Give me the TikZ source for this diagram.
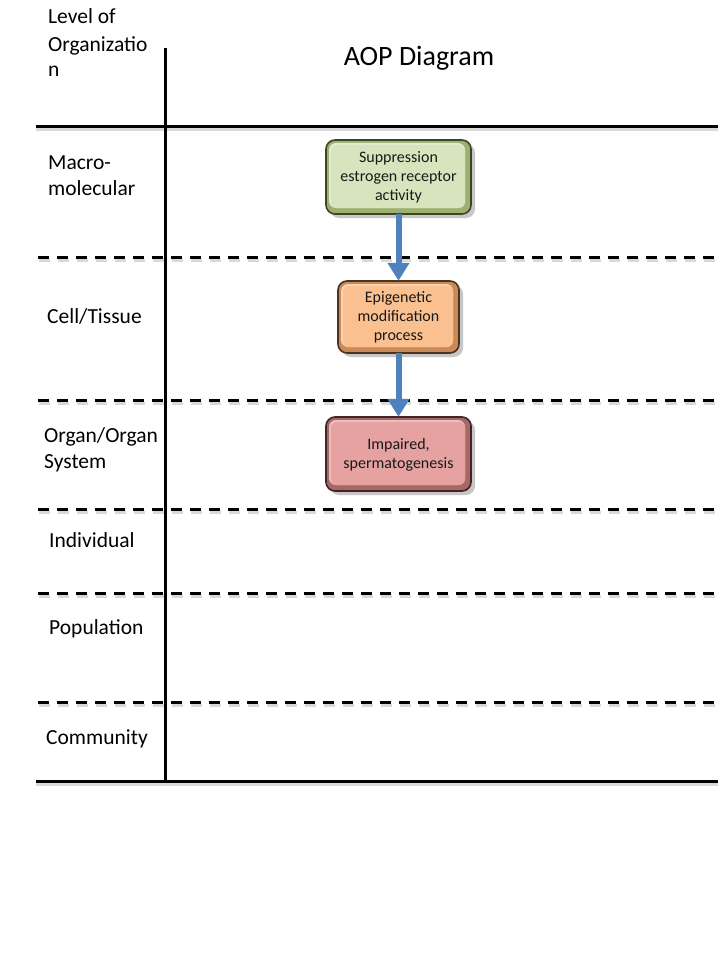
\documentclass[tikz,border=0pt]{standalone}
\usepackage{fontspec}
\setmainfont{Carlito}
\usetikzlibrary{arrows.meta}
\definecolor{grnin}{HTML}{D7E4BD}
\definecolor{grnout}{HTML}{9DB06E}
\definecolor{grnbd}{HTML}{3B4527}
\definecolor{orin}{HTML}{FAC090}
\definecolor{orout}{HTML}{C98A58}
\definecolor{orbd}{HTML}{4A3420}
\definecolor{rdin}{HTML}{E6A1A1}
\definecolor{rdout}{HTML}{A86767}
\definecolor{rdbd}{HTML}{3F2525}
\definecolor{arrblue}{HTML}{4F81BD}
\tikzset{
  lvl/.style={anchor=base west, inner sep=0pt, font=\fontsize{21.5}{25}\selectfont},
  solidrule/.style={line width=3pt, black},
  dashrule/.style={line width=3pt, black, dash pattern=on 11pt off 8pt},
  rshadow/.style={line width=3pt, black!15, dash pattern=on 11pt off 8pt},
  boxtxt/.style={align=center, inner sep=0pt, font=\fontsize{16}{19}\selectfont, text=black!90},
  flow/.style={line width=6pt, arrblue, -{Triangle[width=21pt,length=18pt]}},
}
\newcommand{\bevelbox}[8]{% name, cx, cy, w, h, inner, outer, border
  \fill[black!22, rounded corners=9pt] ({#2-#4/2+4},{#3-#5/2+4}) rectangle ({#2+#4/2+4},{#3+#5/2+4});
  \draw[line width=1.6pt, draw=#8, fill=#7, rounded corners=9pt] ({#2-#4/2},{#3-#5/2}) rectangle ({#2+#4/2},{#3+#5/2});
  \fill[#6!70!white, rounded corners=7pt] ({#2-#4/2+3},{#3-#5/2+3}) rectangle ({#2+#4/2-6},{#3+#5/2-6});
  \fill[#6, rounded corners=6pt] ({#2-#4/2+5},{#3-#5/2+5}) rectangle ({#2+#4/2-6},{#3+#5/2-6});
  \node[minimum width=#4pt, minimum height=#5pt, inner sep=0pt] (#1) at (#2,#3) {};
}
\begin{document}
\begin{tikzpicture}[x=1pt,y=-1pt]
\useasboundingbox (0,0) rectangle (720,960);
\fill[white] (0,0) rectangle (720,960);

% dashed separators (with faint shadow)
\foreach \yy in {257,400,509,593,702}{
  \draw[rshadow] (39,{\yy+3}) -- (721,{\yy+3});
  \draw[dashrule] (38,\yy) -- (720,\yy);
}
% solid rules
\draw[line width=3pt, black!15] (36,130) -- (718,130);
\draw[line width=3pt, black!15] (36,784) -- (718,784);
\draw[solidrule] (36,127) -- (718,127);
\draw[solidrule] (36,781) -- (718,781);
\draw[solidrule] (165,48) -- (165,781);

% titles
\node[lvl] (t1) at (48,24) {Level of};
\node[lvl] (t2) at (48,52) {Organizatio};
\node[lvl] (t3) at (48,77) {n};
\node[anchor=base, inner sep=0pt, font=\fontsize{28}{32}\selectfont] (title) at (419,66) {AOP Diagram};

% level labels
\node[lvl] (l1a) at (48,170) {Macro-};
\node[lvl] (l1b) at (48,195) {molecular};
\node[lvl] (l2) at (47,323) {Cell/Tissue};
\node[lvl] (l3a) at (44,442) {Organ/Organ};
\node[lvl] (l3b) at (44,468) {System};
\node[lvl] (l4) at (49,547) {Individual};
\node[lvl] (l5) at (49,634) {Population};
\node[lvl] (l6) at (46,744) {Community};

% boxes
\bevelbox{b1}{398.5}{177}{145}{74}{grnin}{grnout}{grnbd}
\node[boxtxt] (b1t) at (398.5,177) {Suppression\\estrogen receptor\\activity};
\bevelbox{b2}{398.5}{317}{121}{72}{orin}{orout}{orbd}
\node[boxtxt] (b2t) at (398.5,317) {Epigenetic\\modification\\process};
\bevelbox{b3}{398.5}{454}{145}{74}{rdin}{rdout}{rdbd}
\node[boxtxt] (b3t) at (398.5,454.5) {Impaired,\\spermatogenesis};

% arrows
\draw[flow] (b1.south) -- (b2.north);
\draw[flow] (b2.south) -- (b3.north);
\end{tikzpicture}
\end{document}
